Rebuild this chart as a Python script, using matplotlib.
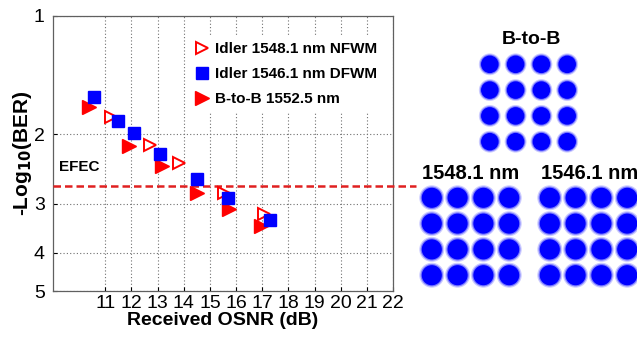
import matplotlib
matplotlib.use("Agg")
import matplotlib.pyplot as plt
from matplotlib.ticker import FixedLocator, NullLocator, FixedFormatter

plt.rcParams['font.family'] = ['Liberation Sans', 'DejaVu Sans']

# ---- data ----
nfwm_x = [11.23, 12.69, 13.83, 15.54, 17.06]
nfwm_y = [1.81, 2.13, 2.37, 2.81, 3.19]
dfwm_x = [10.58, 11.50, 12.09, 13.11, 14.49, 15.70, 17.31]
dfwm_y = [1.61, 1.85, 1.98, 2.24, 2.59, 2.90, 3.30]
btb_x = [10.39, 11.92, 13.15, 14.52, 15.73, 16.96]
btb_y = [1.70, 2.14, 2.40, 2.82, 3.10, 3.41]
efec_y = 2.7
x_ticks = [11, 12, 13, 14, 15, 16, 17, 18, 19, 20, 21, 22]
y_ticks = [1, 2, 3, 4, 5]
labels = ["Idler 1548.1 nm NFWM", "Idler 1546.1 nm DFWM", "B-to-B 1552.5 nm"]

# 16-QAM constellation levels
qam_levels = [-3, -1, 1, 3]
panel_titles = ["B-to-B", "1548.1 nm", "1546.1 nm"]

W, H = 637, 337
fig = plt.figure(figsize=(W / 100, H / 100), dpi=100)

def px_axes(x0, y0, x1, y1):
    return fig.add_axes([x0 / W, 1 - y1 / H, (x1 - x0) / W, (y1 - y0) / H])

ax = px_axes(53, 16, 393, 291)
red = '#ff0000'
blue = '#0000ff'
h1, = ax.plot(nfwm_x, nfwm_y, linestyle='none', marker='>', markersize=9,
              markerfacecolor='white', markeredgecolor=red, markeredgewidth=1.4,
              label=labels[0], zorder=4)
h2, = ax.plot(dfwm_x, dfwm_y, linestyle='none', marker='s', markersize=8,
              markerfacecolor=blue, markeredgecolor=blue, label=labels[1], zorder=5)
h3, = ax.plot(btb_x, btb_y, linestyle='none', marker='>', markersize=10,
              markerfacecolor=red, markeredgecolor=red, label=labels[2], zorder=4)

ax.plot([9, 22.87], [efec_y, efec_y], color='#e02020', linestyle=(0, (3, 1.6)),
        linewidth=1.8, clip_on=False, zorder=3)
ax.text(9.22, 2.42, "EFEC", fontsize=11, fontweight='bold', ha='left', va='center')

ax.set_yscale('log')
ax.set_ylim(5, 1)
ax.set_xlim(9, 22)
ax.yaxis.set_major_locator(FixedLocator(y_ticks))
ax.yaxis.set_major_formatter(FixedFormatter([str(v) for v in y_ticks]))
ax.yaxis.set_minor_locator(NullLocator())
ax.xaxis.set_major_locator(FixedLocator(x_ticks))
ax.xaxis.set_major_formatter(FixedFormatter([str(v) for v in x_ticks]))
ax.tick_params(axis='both', direction='in', length=3, labelsize=14, pad=6)
ax.tick_params(axis='x', pad=3)
ax.grid(True, which='major', color='#707070', linestyle=(0, (1, 2)), linewidth=0.8)
for s in ax.spines.values():
    s.set_color('#606060')
    s.set_linewidth(0.9)

ax.set_xlabel("Received OSNR (dB)", fontsize=14, fontweight='bold', labelpad=0)
ax.set_ylabel("-Log$_{\\mathbf{10}}$(BER)", fontsize=15, fontweight='bold', labelpad=0)

leg = ax.legend(handles=[h1, h2, h3], loc='upper right', bbox_to_anchor=(0.99, 0.95),
                frameon=True, facecolor='white', edgecolor='white', framealpha=1,
                prop={'size': 11, 'weight': 'bold'}, handlelength=1.0,
                handletextpad=0.4, labelspacing=0.72, borderpad=0.3)

# ---- constellations ----
def constellation(cx, cy, scale, size):
    half = 4.5 * scale
    a = px_axes(cx - half, cy - half, cx + half, cy + half)
    xs = [i for q in qam_levels for i in qam_levels]
    ys = [q for q in qam_levels for i in qam_levels]
    a.scatter(xs, ys, s=size * 1.55, c=blue, alpha=0.2, edgecolors='none', marker='o')
    a.scatter(xs, ys, s=size * 1.25, c=blue, alpha=0.4, edgecolors='none', marker='o')
    a.scatter(xs, ys, s=size, c=blue, edgecolors='none', marker='o')
    a.set_xlim(-4.5, 4.5)
    a.set_ylim(-4.5, 4.5)
    a.axis('off')
    return a

constellation(528.5, 103, 12.9, 160)
constellation(470.5, 236.5, 12.9, 210)
constellation(588.5, 236.5, 12.9, 210)

fig.text(531 / W, 1 - 40 / H, panel_titles[0], fontsize=14, fontweight='bold',
         ha='center', va='center')
fig.text(471 / W, 1 - 174 / H, panel_titles[1], fontsize=14.5, fontweight='bold',
         ha='center', va='center')
fig.text(541 / W, 1 - 174 / H, panel_titles[2], fontsize=14.5, fontweight='bold',
         ha='left', va='center')

fig.savefig("out.png", dpi=100)
